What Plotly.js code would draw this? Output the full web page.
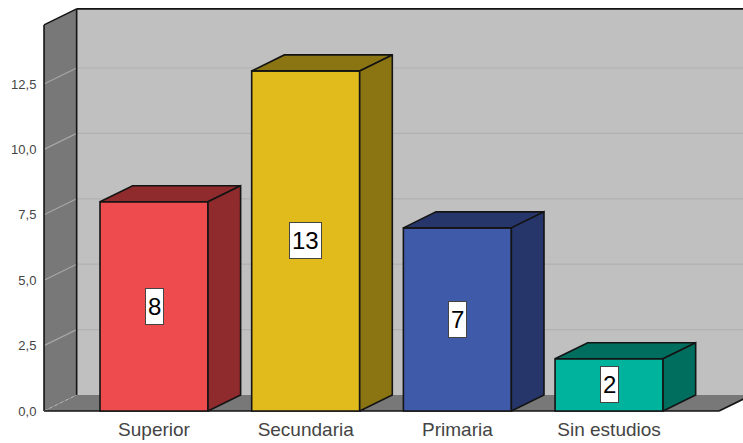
<!DOCTYPE html>
<html>
<head>
<meta charset="utf-8">
<script src="https://cdn.plot.ly/plotly-3.0.1.min.js"></script>
<style>html,body{margin:0;padding:0;background:#fff}#chart{width:743px;height:443px}</style>
</head>
<body>
<div id="chart"></div>
<script>
// Education level counts
const categories = ["Superior", "Secundaria", "Primaria", "Sin estudios"];
const values = [8, 13, 7, 2];
const frontColors = ["#ee4b4e", "#e1ba1c", "#3f5aa9", "#00b39d"];
const shadeColors = ["#8f2b2d", "#8b7412", "#26366a", "#006e5f"];
const yTicks = [0, 2.5, 5, 7.5, 10, 12.5];

// Extrusion and extents of the box, in axis units
const barWidth = 0.712;
const depthX = 0.215;
const depthY = 0.612;
const wallTop = 14.76;
const xLeft = -0.725;
const xFloorEnd = 3.725;
const xMax = 3.883;

const positions = categories.map((_, i) => i);
const edge = "#141414";
const edgeWidth = 1.6;
const backX = xLeft + depthX;
const shapes = [];
const traces = [];

function wall(pts, fill) {
  shapes.push({
    type: "path", layer: "below", xref: "x", yref: "y",
    path: "M" + pts.map(p => p[0] + "," + p[1]).join(" L") + " Z",
    fillcolor: fill, line: { width: 0 }
  });
}
function rule(x0, y0, x1, y1, color, width, dash) {
  shapes.push({
    type: "line", layer: "below", xref: "x", yref: "y",
    x0: x0, y0: y0, x1: x1, y1: y1,
    line: { color: color, width: width, dash: dash || "solid" }
  });
}
function face(xs, ys, fill) {
  traces.push({
    type: "scatter", mode: "lines", x: xs, y: ys,
    fill: "toself", fillcolor: fill,
    line: { color: edge, width: edgeWidth },
    hoverinfo: "skip", showlegend: false
  });
}

// Walls and floor
wall([[backX, depthY], [xMax + 1, depthY], [xMax + 1, wallTop + depthY], [backX, wallTop + depthY]], "#c0c0c0");
wall([[xLeft, 0], [backX, depthY], [xFloorEnd + depthX, depthY], [xFloorEnd, 0]], "#787878");
wall([[xLeft, 0], [backX, depthY], [backX, wallTop + depthY], [xLeft, wallTop]], "#787878");

// Grid lines across both walls
yTicks.slice(1).forEach(v => {
  rule(backX, v + depthY, xMax + 1, v + depthY, "#b1b1b1", 1.2);
  rule(xLeft, v, backX, v + depthY, "#a6a6a6", 1.2);
});

// Wall outlines
rule(backX, depthY, backX, wallTop + depthY, edge, edgeWidth);
rule(backX, wallTop + depthY, xMax + 1, wallTop + depthY, edge, edgeWidth);
rule(xLeft, 0, xLeft, wallTop, edge, edgeWidth);
rule(xLeft, wallTop, backX, wallTop + depthY, edge, edgeWidth);
rule(xLeft, 0, backX, depthY, "#b5b5b5", 1, "dot");
rule(xLeft, 0, xFloorEnd, 0, edge, edgeWidth);
rule(xFloorEnd, 0, xFloorEnd + depthX, depthY, edge, edgeWidth);

// Front faces
traces.push({
  type: "bar", x: positions, y: values, width: barWidth,
  marker: { color: frontColors, line: { color: edge, width: edgeWidth } },
  hoverinfo: "skip", showlegend: false
});

// Top and side faces of each column
values.forEach((v, i) => {
  const l = positions[i] - barWidth / 2, r = positions[i] + barWidth / 2;
  face([l, r, r + depthX, l + depthX, l], [v, v, v + depthY, v + depthY, v], shadeColors[i]);
  face([r, r + depthX, r + depthX, r, r], [0, depthY, v + depthY, v, 0], shadeColors[i]);
});

const annotations = values.map((v, i) => ({
  x: positions[i], y: v / 2, xref: "x", yref: "y",
  text: String(v), showarrow: false,
  font: { family: "Liberation Sans, Arial, sans-serif", size: 24, color: "#000" },
  bgcolor: "#ffffff", bordercolor: "#444444", borderwidth: 1,
  borderpad: 2, height: 31
}));

const layout = {
  width: 743, height: 443,
  margin: { l: 41, r: 0, t: 5, b: 30 },
  paper_bgcolor: "#ffffff", plot_bgcolor: "#ffffff",
  separators: ",.",
  showlegend: false,
  hovermode: false,
  xaxis: {
    range: [-0.745, xMax], showgrid: false, zeroline: false, showline: false,
    tickmode: "array", tickvals: positions, ticktext: categories,
    ticks: "", ticklen: 0, ticklabelstandoff: 3,
    tickfont: { family: "Liberation Sans, Arial, sans-serif", size: 19, color: "#444444" }
  },
  yaxis: {
    range: [-0.076, 15.52], showgrid: false, zeroline: false, showline: false,
    tickmode: "array", tickvals: yTicks, tickformat: ".1f",
    ticks: "outside", ticklen: 1, tickcolor: "rgba(0,0,0,0)",
    tickfont: { family: "Liberation Sans, Arial, sans-serif", size: 13, color: "#444444" }
  },
  shapes: shapes,
  annotations: annotations
};

Plotly.newPlot("chart", traces, layout, { displayModeBar: false, staticPlot: true });
</script>
</body>
</html>
